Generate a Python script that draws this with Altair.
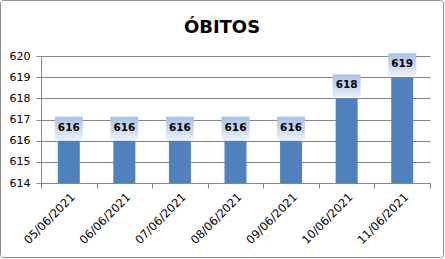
import altair as alt
import pandas as pd

dates = ["05/06/2021", "06/06/2021", "07/06/2021", "08/06/2021",
         "09/06/2021", "10/06/2021", "11/06/2021"]
obitos = [616, 616, 616, 616, 616, 618, 619]
y_ticks = [614, 615, 616, 617, 618, 619, 620]

df = pd.DataFrame({"data": dates, "obitos": obitos})

FONT = "DejaVu Sans"
W, H = 389, 127

xscale = alt.Scale(paddingInner=0, paddingOuter=0)
xaxis = alt.Axis(labelAngle=-45, labelFont=FONT, labelFontSize=11.5,
                 labelColor="#000", domainColor="#868686", tickColor="#868686",
                 tickSize=5, tickBand="extent", grid=False, labelPadding=3)
yscale = alt.Scale(domain=[614, 620], nice=False, zero=False)
yaxis = alt.Axis(values=y_ticks, labelOverlap=False,
                 labelFont=FONT, labelFontSize=11, labelColor="#000",
                 domainColor="#868686", tickColor="#868686", tickSize=5,
                 gridColor="#868686", labelPadding=6)


def X():
    return alt.X("data:N", sort=dates, title=None, scale=xscale, axis=xaxis)


def Y(f):
    return alt.Y(f, title=None, scale=yscale, axis=yaxis)


base = alt.Chart(df)

bars = base.mark_bar(width=22, color="#4f81bd", clip=True).encode(
    x=X(), y=Y("obitos:Q"), y2=alt.datum(614)
)

boxes = base.transform_calculate(
    lo="datum.obitos + 0.05", hi="datum.obitos + 1.13"
).mark_bar(
    width=28,
    fill=alt.Gradient(gradient="linear", x1=0, y1=0, x2=0, y2=1,
                      stops=[alt.GradientStop(color="#a7c0e8", offset=0),
                             alt.GradientStop(color="#e9f0fb", offset=1)])
).encode(x=X(), y=Y("lo:Q"), y2="hi:Q")

labels = base.mark_text(dy=-13, baseline="middle", font=FONT, fontSize=10.5,
                        fontWeight="bold", color="#000").encode(
    x=X(), y=Y("obitos:Q"), text="obitos:Q")

title = base.transform_filter("datum.data == '05/06/2021'").mark_text(
    font=FONT, fontSize=18, fontWeight="bold", color="#000",
    baseline="alphabetic", align="center").encode(
    x=alt.value(181), y=alt.value(-23), text=alt.value("ÓBITOS"))

border = base.transform_filter("datum.data == '05/06/2021'").mark_rect(
    fillOpacity=0, stroke="#8c8c8c", strokeWidth=1, cornerRadius=3).encode(
    x=alt.value(-40.5), x2=alt.value(W + 13.5),
    y=alt.value(-55.5), y2=alt.value(H + 74.5))

chart = alt.layer(bars, boxes, labels, title, border).properties(
    width=W, height=H,
    padding={"left": 41, "top": 56, "right": 15, "bottom": 76},
    autosize=alt.AutoSizeParams(type="none"),
    background="white"
).configure_view(stroke=None)

chart.save("out.html", embed_options={"renderer": "svg", "actions": False})
